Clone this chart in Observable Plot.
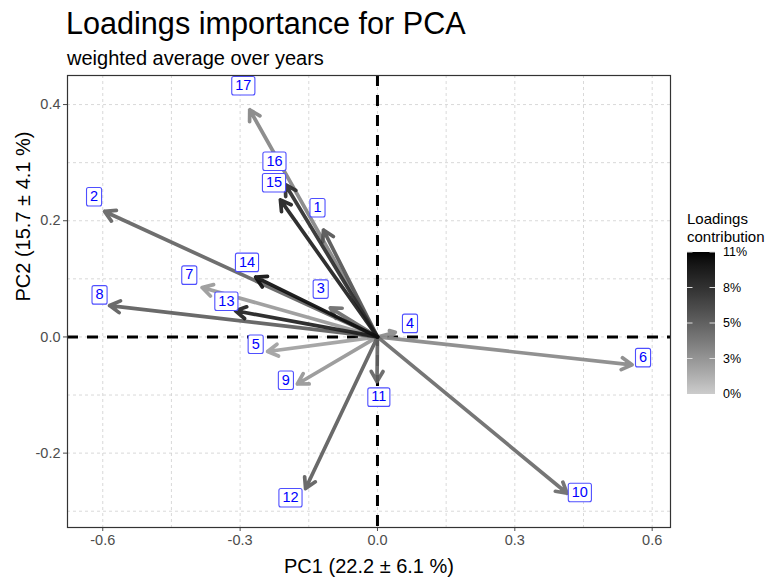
<!DOCTYPE html>
<html>
<head>
<meta charset="utf-8">
<script src="https://cdn.jsdelivr.net/npm/d3@7"></script>
<script src="https://cdn.jsdelivr.net/npm/@observablehq/plot@0.6"></script>
<style>
  body { margin: 0; background: #fff; font-family: "Liberation Sans", Arial, sans-serif; }
  #wrap { position: relative; width: 769px; height: 578px; overflow: hidden; }
  #chart { position: absolute; left: 0; top: 0; }
  #overlay { position: absolute; left: 0; top: 0; pointer-events: none; }
</style>
</head>
<body>
<div id="wrap">
  <div id="chart"></div>
  <svg id="overlay" width="769" height="578"></svg>
</div>
<script>
// ---- data ----
const variables    = ["1","2","3","4","5","6","7","8","9","10","11","12","13","14","15","16","17"];
const pc1          = [-0.118,-0.596,-0.103, 0.039,-0.240, 0.556,-0.383,-0.585,-0.175, 0.414,-0.001,-0.157,-0.310,-0.266,-0.212,-0.201,-0.279];
const pc2          = [ 0.184, 0.216, 0.050, 0.008,-0.025,-0.048, 0.085, 0.054,-0.081,-0.269,-0.077,-0.261, 0.045, 0.103, 0.236, 0.262, 0.391];
const contribution = [ 0.062, 0.054, 0.050, 0.033, 0.022, 0.034, 0.025, 0.057, 0.027, 0.050, 0.054, 0.057, 0.095, 0.105, 0.095, 0.085, 0.036];
const labelPc1     = [-0.131,-0.619,-0.124, 0.071,-0.266, 0.580,-0.411,-0.607,-0.200, 0.442, 0.003,-0.190,-0.330,-0.285,-0.226,-0.225,-0.293];
const labelPc2     = [ 0.223, 0.242, 0.083, 0.024,-0.012,-0.035, 0.107, 0.073,-0.074,-0.267,-0.103,-0.276, 0.062, 0.129, 0.266, 0.303, 0.433];

const xTicks = [-0.6, -0.3, 0, 0.3, 0.6];
const yTicks = [-0.2, 0, 0.2, 0.4];
const xGrid  = [-0.6, -0.45, -0.3, -0.15, 0, 0.15, 0.3, 0.45, 0.6];
const yGrid  = [-0.3, -0.2, -0.1, 0, 0.1, 0.2, 0.3, 0.4];
const legendTicks = [0, 0.0275, 0.055, 0.0825, 0.11];
const legendTickLabels = ["0%", "3%", "5%", "8%", "11%"];

const titleText = "Loadings importance for PCA";
const subtitleText = "weighted average over years";
const xLabel = "PC1 (22.2 \u00b1 6.1 %)";
const yLabel = "PC2 (15.7 \u00b1 4.1 %)";
const legendTitle = ["Loadings", "contribution"];

// ---- build table ----
const rows = variables.map((v, i) => ({
  v, pc1: pc1[i], pc2: pc2[i], contrib: contribution[i], lx: labelPc1[i], ly: labelPc2[i]
}));
const arrowsSorted = rows.slice().sort((a, b) => a.contrib - b.contrib);

const colorDomain = [0, 0.11];
const colorRange = ["#cccccc", "#000000"];
const fmt = d => d.toFixed(1);

const chart = Plot.plot({
  width: 769,
  height: 578,
  marginLeft: 67,
  marginRight: 99,
  marginTop: 75,
  marginBottom: 51,
  style: { fontFamily: "Liberation Sans, Arial, sans-serif", fontSize: "14.5px", color: "#4d4d4d", background: "white" },
  x: { domain: [-0.677, 0.640], ticks: xTicks, tickFormat: fmt, tickSize: 4, tickPadding: 3, label: null },
  y: { domain: [-0.328, 0.450], ticks: yTicks, tickFormat: fmt, tickSize: 4, tickPadding: 3, label: null },
  color: { type: "linear", domain: colorDomain, range: colorRange, interpolate: "lab" },
  marks: [
    Plot.gridX(xGrid, { stroke: "#cfcfcf", strokeOpacity: 1, strokeWidth: 0.8, strokeDasharray: "3,3" }),
    Plot.gridY(yGrid, { stroke: "#cfcfcf", strokeOpacity: 1, strokeWidth: 0.8, strokeDasharray: "3,3" }),
    Plot.ruleX([0], { stroke: "black", strokeWidth: 3, strokeDasharray: "11,9" }),
    Plot.ruleY([0], { stroke: "black", strokeWidth: 3, strokeDasharray: "11,9" }),
    Plot.arrow(arrowsSorted, {
      x1: d => 0, y1: d => 0, x2: "pc1", y2: "pc2",
      stroke: "contrib", strokeWidth: 3.7, strokeOpacity: 0.92,
      headLength: 4.8, headAngle: 60, strokeLinejoin: "round"
    }),
    Plot.text(rows, {
      x: "lx", y: "ly", text: "v", fill: "#0000ff", fontSize: 14.5,
      ariaLabel: "pca-labels"
    }),
    Plot.frame({ stroke: "#333333", strokeWidth: 1.2 }),
    Plot.text([xLabel], { frameAnchor: "bottom", dy: 45, fontSize: 20, fill: "black" }),
    Plot.text([yLabel], { frameAnchor: "left", dx: -44, rotate: -90, fontSize: 20, fill: "black" })
  ]
});
document.getElementById("chart").appendChild(chart);

// white label boxes with blue border behind the labels
const svgNS = "http://www.w3.org/2000/svg";
let labelNodes = Array.from(chart.querySelectorAll('text[aria-label="pca-labels"]'));
if (!labelNodes.length) labelNodes = Array.from(chart.querySelectorAll('g[aria-label="pca-labels"] text'));
if (!labelNodes.length) labelNodes = Array.from(chart.querySelectorAll('g[aria-label="text"] text')).filter(t => variables.includes(t.textContent));
labelNodes.forEach(t => {
  const bb = t.getBBox();
  const r = document.createElementNS(svgNS, "rect");
  r.setAttribute("x", bb.x - 3.5);
  r.setAttribute("y", bb.y - 0.5);
  r.setAttribute("width", bb.width + 7);
  r.setAttribute("height", bb.height + 2.5);
  r.setAttribute("rx", 2);
  r.setAttribute("style", "fill:#ffffff;stroke:#4f4fff;stroke-width:1.1;stroke-opacity:1");
  const tr = t.getAttribute("transform");
  if (tr) r.setAttribute("transform", tr);
  t.parentNode.insertBefore(r, t);
});

// ---- titles and legend ----
const ov = d3.select("#overlay");
ov.append("text").attr("x", 66).attr("y", 34).attr("font-size", 30.6).attr("fill", "black").text(titleText);
ov.append("text").attr("x", 67).attr("y", 65).attr("font-size", 20).attr("fill", "black").text(subtitleText);

const lg = ov.append("g");
legendTitle.forEach((s, i) => {
  lg.append("text").attr("x", 687).attr("y", 224 + i * 18).attr("font-size", 15).attr("fill", "black").text(s);
});
const barX = 687, barW = 28, barTop = 252, barBottom = 394;
const grad = ov.append("defs").append("linearGradient").attr("id", "lgrad")
  .attr("x1", 0).attr("y1", 1).attr("x2", 0).attr("y2", 0);
const interp = d3.interpolateLab(colorRange[0], colorRange[1]);
d3.range(0, 1.0001, 0.05).forEach(t => grad.append("stop").attr("offset", t).attr("stop-color", interp(t)));
lg.append("rect").attr("x", barX).attr("y", barTop).attr("width", barW).attr("height", barBottom - barTop).attr("fill", "url(#lgrad)");
const ly = d3.scaleLinear(colorDomain, [barBottom, barTop]);
legendTicks.forEach((v, i) => {
  const y = ly(v);
  if (i > 0) {
    lg.append("line").attr("x1", barX).attr("x2", barX + 5.5).attr("y1", y).attr("y2", y).attr("stroke", "#dddddd").attr("stroke-width", 1);
    lg.append("line").attr("x1", barX + barW - 5.5).attr("x2", barX + barW).attr("y1", y).attr("y2", y).attr("stroke", "#dddddd").attr("stroke-width", 1);
  }
  lg.append("text").attr("x", 723).attr("y", y).attr("dy", "0.35em").attr("font-size", 12.5).attr("fill", "black").text(legendTickLabels[i]);
});
</script>
</body>
</html>
